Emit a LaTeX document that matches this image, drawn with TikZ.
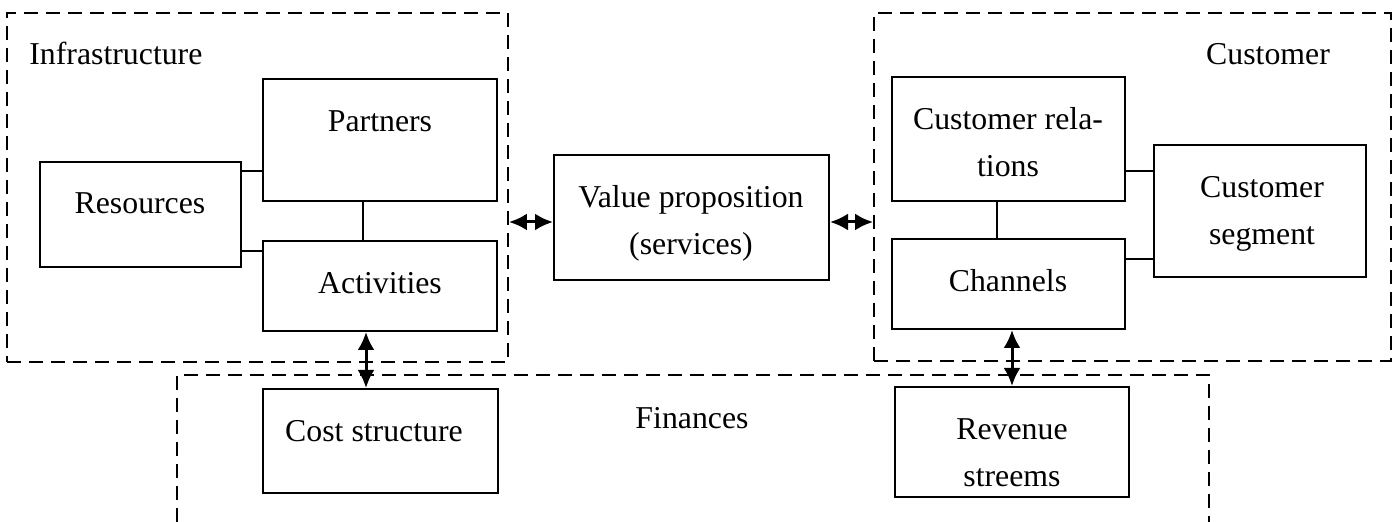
\documentclass[tikz,border=0pt]{standalone}
\usepackage{fontspec}
\setmainfont{Liberation Serif}
\usetikzlibrary{arrows.meta,fit}
\begin{document}
\begin{tikzpicture}[x=0.5pt,y=-0.5pt,
  every node/.style={font=\fontsize{15.9}{23.5}\selectfont},
  blockbox/.style={draw,line width=1pt,inner sep=0pt},
  groupbox/.style={draw,line width=0.9pt,dash pattern=on 7pt off 4pt,inner sep=0pt},
  txt/.style={anchor=base,inner sep=0pt,align=center},
  link/.style={line width=1pt},
  flow/.style={line width=1.5pt,{Latex[length=9pt,width=8.5pt]}-{Latex[length=9pt,width=8.5pt]}}]
\fill[white] (0,0) rectangle (1398,522);
\useasboundingbox (0,0) rectangle (1398,522);

% group frames
\node[groupbox,fit={(7,13) (508,362)}] (infra) {};
\node[groupbox,fit={(874,13) (1391,361)}] (cust) {};
\coordinate (finbl) at (177,522);
\coordinate (fintl) at (177,375);
\coordinate (fintr) at (1209,375);
\coordinate (finbr) at (1209,522);
\draw[line width=0.9pt,dash pattern=on 7pt off 4pt] (finbl) -- (fintl) -- (fintr) -- (finbr);

% group titles
\node[txt,anchor=base west] (infraT) at (29,65) {Infrastructure};
\node[txt] (custT) at (1268,65) {Customer};
\node[txt] (finT) at (692,429) {Finances};

% infrastructure blocks
\node[blockbox,fit={(263,79) (497,201)}] (partners) {};
\node[blockbox,fit={(40,162) (241,267)}] (resources) {};
\node[blockbox,fit={(263,241) (497,331)}] (activities) {};
\node[txt] (partnersT) at (380,132) {Partners};
\node[txt] (resourcesT) at (140,214) {Resources};
\node[txt] (activitiesT) at (380,294) {Activities};

% value proposition (base anchor sits on the last line)
\node[blockbox,fit={(554,155) (829,280)}] (value) {};
\node[txt] (valueT) at (691,255) {Value proposition\\(services)};

% customer blocks
\node[blockbox,fit={(892,77) (1125,201)}] (custrel) {};
\node[blockbox,fit={(892,239) (1125,329)}] (channels) {};
\node[blockbox,fit={(1154,145) (1366,277)}] (segment) {};
\node[txt] (custrelT) at (1008,177) {Customer rela-\\tions};
\node[txt] (channelsT) at (1008,292) {Channels};
\node[txt] (segmentT) at (1262,245) {Customer\\segment};

% finance blocks
\node[blockbox,fit={(263,389) (498,493)}] (cost) {};
\node[blockbox,fit={(895,387) (1129,497)}] (revenue) {};
\node[txt] (costT) at (374,442) {Cost structure};
\node[txt] (revenueT) at (1012,487) {Revenue\\streems};

% plain links
\draw[link] (resources.east |- 0,171) -- (partners.west |- 0,171);
\draw[link] (resources.east |- 0,251) -- (activities.west |- 0,251);
\draw[link] (partners.south -| 363,0) -- (activities.north -| 363,0);
\draw[link] (custrel.east |- 0,171) -- (segment.west |- 0,171);
\draw[link] (channels.east |- 0,259) -- (segment.west |- 0,259);
\draw[link] (custrel.south -| 997,0) -- (channels.north -| 997,0);

% two-way flows
\draw[flow] (infra.east |- 0,222) -- (value.west |- 0,222);
\draw[flow] (value.east |- 0,222) -- (cust.west |- 0,222);
\draw[flow] (activities.south -| 366,0) -- (cost.north -| 366,0);
\draw[flow] (channels.south -| 1012,0) -- (revenue.north -| 1012,0);
\end{tikzpicture}
\end{document}
